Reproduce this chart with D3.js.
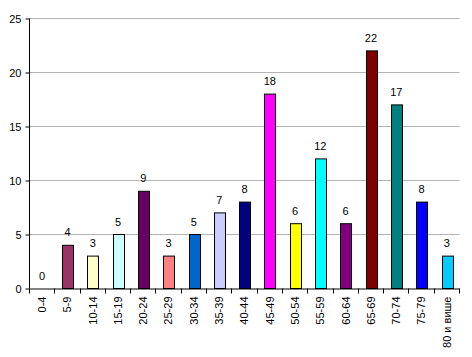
<!DOCTYPE html>
<html><head><meta charset="utf-8">
<script src="https://cdn.jsdelivr.net/npm/d3@7"></script>
<style>body{margin:0;background:#fff}svg{display:block}</style>
</head><body>
<svg id="c" width="472" height="357"></svg>
<script>
const categories = ["0-4","5-9","10-14","15-19","20-24","25-29","30-34","35-39","40-44","45-49","50-54","55-59","60-64","65-69","70-74","75-79","80 и више"];
const values = [0,4,3,5,9,3,5,7,8,18,6,12,6,22,17,8,3];
const colors = ["#808080","#993366","#FFFFCC","#CCFFFF","#660066","#FF8080","#0066CC","#CCCCFF","#000080","#FF00FF","#FFFF00","#00FFFF","#800080","#800000","#008080","#0000FF","#00CCFF"];
const yTicks = [0,5,10,15,20,25];

const svg = d3.select("#c");
const mLeft = 29.5, mRight = 459.5, mTop = 18.5, mBottom = 288.5;
const x = d3.scaleBand().domain(categories).range([mLeft, mRight]).paddingInner(0.58).paddingOuter(0.29);
const y = d3.scaleLinear().domain([0,25]).range([mBottom, mTop]);
const font = "Arial, 'Liberation Sans', sans-serif";

// gridlines
svg.append("g").selectAll("line").data(yTicks.filter(d=>d>0)).join("line")
  .attr("x1", mLeft).attr("x2", mRight).attr("y1", d=>y(d)).attr("y2", d=>y(d))
  .attr("stroke", "#b4b4b4").attr("stroke-width", 1);

// bars
svg.append("g").selectAll("rect").data(values).join("rect")
  .attr("x", (d,i)=>Math.round(x(categories[i]))+0.5)
  .attr("y", d=>y(d))
  .attr("width", Math.round(x.bandwidth()))
  .attr("height", d=>mBottom - y(d))
  .attr("fill", (d,i)=>colors[i])
  .attr("stroke", "#000").attr("stroke-width", 1)
  .attr("display", d=>d===0?"none":null);

// value labels
svg.append("g").selectAll("text").data(values).join("text")
  .attr("x", (d,i)=>x(categories[i]) + x.bandwidth()/2)
  .attr("y", d=>y(d) - 9)
  .attr("text-anchor", "middle")
  .attr("font-family", font).attr("font-size", 11).attr("fill", "#000")
  .text(d=>d);

// y axis
const yAxis = d3.axisLeft(y).tickValues(yTicks).tickSize(4).tickPadding(4);
const gy = svg.append("g").attr("transform", `translate(${mLeft},0)`).call(yAxis);
gy.select(".domain").attr("stroke", "#000").attr("d", `M0,${mBottom}V${mTop}`);
gy.selectAll(".tick text").attr("font-family", font).attr("font-size", 11).attr("fill", "#000");

// x axis
const xAxis = d3.axisBottom(x).tickSize(0).tickSizeOuter(0);
const gx = svg.append("g").attr("transform", `translate(0,${mBottom})`).call(xAxis);
gx.select(".domain").attr("stroke", "#000");
gx.selectAll(".tick line").remove();
gx.selectAll(".tick text")
  .attr("font-family", font).attr("font-size", 11).attr("fill", "#000")
  .attr("transform", "rotate(-90)")
  .attr("text-anchor", "end")
  .attr("x", -8).attr("y", 0).attr("dy", "0.35em");
// boundary ticks between categories
const bounds = d3.range(categories.length + 1).map(i => mLeft + i * (mRight - mLeft) / categories.length);
svg.append("g").selectAll("line").data(bounds).join("line")
  .attr("x1", d=>Math.round(d-0.5)+0.5).attr("x2", d=>Math.round(d-0.5)+0.5)
  .attr("y1", mBottom).attr("y2", mBottom + 5)
  .attr("stroke", "#000");
</script>
</body></html>
